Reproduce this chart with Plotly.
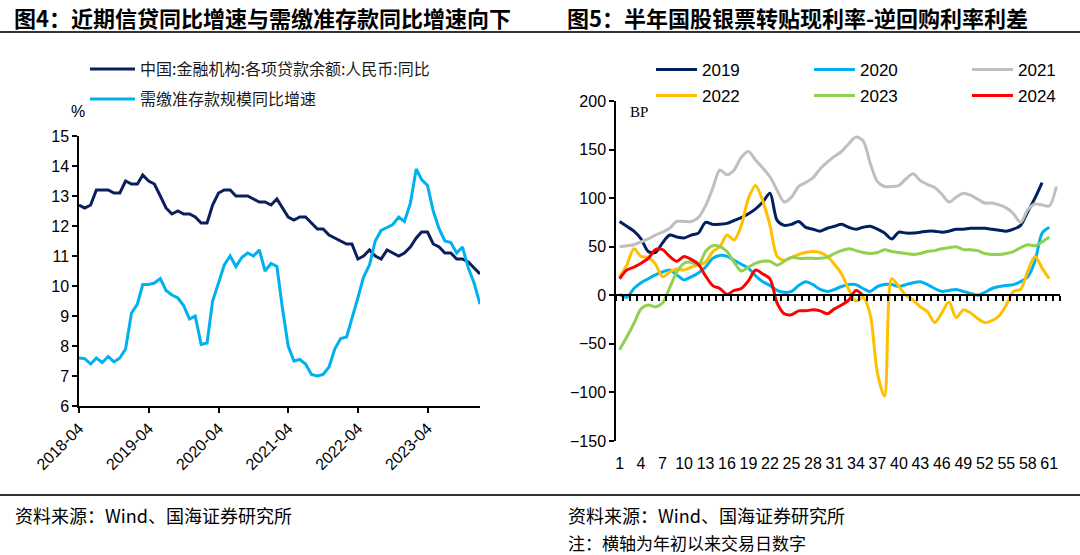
import plotly.graph_objects as go
import pandas as pd

W, H = 1080, 555

# ---------------- Left chart data (monthly, 2018-04 .. 2024-01) ----------------
loan_months = pd.date_range("2018-04-01", periods=70, freq="MS")
loan_yoy = [12.7, 12.6, 12.7, 13.2, 13.2, 13.2, 13.1, 13.1, 13.5,
            13.4, 13.4, 13.7, 13.5, 13.4, 13.0, 12.6, 12.4, 12.5, 12.4, 12.4, 12.3,
            12.1, 12.1, 12.7, 13.1, 13.2, 13.2, 13.0, 13.0, 13.0, 12.9, 12.8, 12.8,
            12.7, 12.9, 12.6, 12.3, 12.2, 12.3, 12.3, 12.1, 11.9, 11.9, 11.7, 11.6,
            11.5, 11.4, 11.4, 10.9, 11.0, 11.2, 11.0, 10.9, 11.2, 11.1, 11.0, 11.1,
            11.3, 11.6, 11.8, 11.8, 11.4, 11.3, 11.1, 11.1, 10.9, 10.9, 10.8, 10.6,
            10.4]
reserve_yoy = [7.6, 7.58, 7.4, 7.6, 7.45, 7.65, 7.47, 7.6, 7.9, 9.1,
               9.4, 10.05, 10.05, 10.1, 10.25, 9.85, 9.7, 9.6, 9.35, 8.9,
               9.0, 8.05, 8.1, 9.5, 10.1, 10.7, 11.0, 10.65, 10.95, 11.1,
               11.0, 11.2, 10.5, 10.75, 10.65, 9.3, 8.0, 7.5, 7.55, 7.4,
               7.05, 7.0, 7.05, 7.3, 7.9, 8.25, 8.3, 8.9, 9.6, 10.3,
               10.7, 11.5, 11.85, 11.95, 12.05, 12.3, 12.15, 12.75, 13.9, 13.55,
               13.35, 12.5, 11.9, 11.5, 11.45, 11.1, 11.3, 10.6, 10.1, 9.4]
left_names = ["中国:金融机构:各项贷款余额:人民币:同比", "需缴准存款规模同比增速"]

# ---------------- Right chart data (trading day index) ----------------
s2019 = [76, 71, 66, 58, 45, 44, 54, 62, 60, 59,
         62, 64, 75, 73, 73, 74, 77, 80, 84, 89,
         96, 105, 77, 72, 73, 76, 70, 68, 66, 69,
         71, 73, 70, 68, 70, 71, 68, 64, 58, 65,
         64, 64, 65, 66, 66, 65, 66, 68, 68, 69,
         69, 69, 68, 67, 66, 68, 72, 86, 100, 116]
s2020 = [1, -2, 7, 13, 17, 21, 24, 26, 21, 16,
         19, 23, 29, 38, 41, 40, 36, 32, 28, 20,
         14, 10, 5, 3, 4, 10, 14, 11, 6, 4,
         6, 9, 11, 11, 7, 4, 9, 11, 11, 9,
         11, 13, 14, 11, 7, 4, 5, 6, 4, 2,
         0, 3, 7, 9, 10, 11, 14, 19, 35, 64,
         70]
s2021 = [50, 51, 52, 55, 58, 62, 65, 69, 76, 76,
         76, 80, 92, 110, 129, 124, 129, 142, 148, 139,
         131, 122, 108, 96, 101, 112, 116, 121, 130, 137,
         143, 148, 156, 163, 159, 136, 117, 112, 112, 113,
         120, 125, 118, 114, 111, 104, 96, 101, 105, 103,
         99, 95, 95, 93, 90, 84, 75, 88, 94, 93,
         92, 112]
s2022 = [19, 31, 48, 40, 39, 32, 19, 24, 27, 26,
         29, 31, 34, 45, 50, 62, 57, 72, 100, 113,
         97, 72, 40, 36, 39, 42, 44, 45, 44, 40,
         32, 22, 6, -6, -2, -20, -80, -104, 17, 9,
         0, -5, -12, -17, -28, -18, -7, -23, -15, -18,
         -24, -28, -26, -21, -10, 4, 6, 25, 40, 28,
         17]
s2023 = [-56, -43, -29, -14, -10, -12, -8, 8, 24, 33,
         34, 31, 45, 51, 50, 45, 34, 25, 29, 33,
         35, 35, 31, 35, 39, 38, 38, 38, 38, 39,
         43, 46, 48, 46, 44, 43, 44, 47, 45, 44,
         43, 42, 43, 45, 46, 48, 49, 50, 47, 47,
         46, 43, 42, 42, 43, 45, 49, 52, 51, 55,
         60]
s2024 = [17, 26, 29, 33, 38, 47, 47, 40, 35, 40,
         37, 32, 20, 10, 7, 1, 5, 7, 15, 26,
         22, 17, -8, -19, -20, -16, -16, -15, -16, -19,
         -14, -10, -5, 5, 0]
right_series = {"2019": s2019, "2020": s2020, "2021": s2021,
                "2022": s2022, "2023": s2023, "2024": s2024}
right_colors = {"2019": "#002060", "2020": "#00B0F0", "2021": "#BFBFBF",
                "2022": "#FFC000", "2023": "#92D050", "2024": "#FF0000"}
day_ticks = list(range(1, 62, 3))
n_days = 62

# ---------------- layout geometry (pixels) ----------------
def fx(px):
    return px / W

def fy(py):
    return 1 - py / H

L_X0, L_X1, L_YT, L_YB = 79, 480, 136, 406
R_X0, R_X1, R_YT, R_YB = 616, 1060, 101, 441
Y2_MIN, Y2_MAX = -150, 200
zero_pos = fy(R_YB) + (0 - Y2_MIN) / (Y2_MAX - Y2_MIN) * (fy(R_YT) - fy(R_YB))

SANS = "Liberation Sans, Arial, sans-serif"
CJK = "Noto Sans CJK SC, sans-serif"

fig = go.Figure()

fig.add_trace(go.Scatter(x=loan_months, y=loan_yoy, mode="lines", name=left_names[0],
                         line=dict(color="#0B1F5E", width=3), xaxis="x", yaxis="y",
                         legend="legend"))
fig.add_trace(go.Scatter(x=loan_months, y=reserve_yoy, mode="lines", name=left_names[1],
                         line=dict(color="#00B0F0", width=3), xaxis="x", yaxis="y",
                         legend="legend2"))

leg_names = ["legend3", "legend4", "legend5", "legend6", "legend7", "legend8"]
for k, (yr, vals) in enumerate(right_series.items()):
    fig.add_trace(go.Scatter(x=list(range(1, len(vals) + 1)), y=vals, mode="lines", name=yr,
                             line=dict(color=right_colors[yr], width=3, shape="spline", smoothing=0.8),
                             xaxis="x2", yaxis="y2", legend=leg_names[k]))

# invisible helper trace so that the bottom label axis (x3) is drawn
fig.add_trace(go.Scatter(x=[day_ticks[0]], y=[0], mode="markers", marker=dict(opacity=0),
                         xaxis="x3", yaxis="y2", showlegend=False, hoverinfo="skip"))

axis_common = dict(showgrid=False, zeroline=False, showline=True, linecolor="#000000",
                   linewidth=1.5, ticks="outside", tickcolor="#000000", tickwidth=1.5,
                   automargin=False,
                   tickfont=dict(family=SANS, size=16, color="#000000"))

layout = dict(
    width=W, height=H, margin=dict(l=0, r=0, t=0, b=0, autoexpand=False),
    paper_bgcolor="white", plot_bgcolor="white",
    xaxis=dict(domain=[fx(L_X0), fx(L_X1)], anchor="y", type="date",
               range=["2018-04-01", "2024-01-01"], tick0="2018-04-01", dtick="M12",
               tickformat="%Y-%m", tickangle=-45, ticklen=5, **axis_common),
    yaxis=dict(domain=[fy(L_YB), fy(L_YT)], anchor="x", range=[6, 15], dtick=1,
               ticklen=5, **axis_common),
    xaxis2=dict(domain=[fx(R_X0), fx(R_X1)], anchor="free", position=zero_pos,
                range=[0.5, n_days + 0.5], tickmode="array",
                tickvals=[i + 0.5 for i in range(0, n_days + 1)],
                showticklabels=False, ticklen=5, **axis_common),
    xaxis3=dict(domain=[fx(R_X0), fx(R_X1)], anchor="y2", overlaying="x2",
                range=[0.5, n_days + 0.5], tickmode="array", tickvals=day_ticks,
                ticktext=[str(v) for v in day_ticks], showline=False, showgrid=False,
                zeroline=False, ticks="outside", ticklen=8, tickcolor="rgba(0,0,0,0)",
                automargin=False,
                tickfont=dict(family=SANS, size=16, color="#000000")),
    yaxis2=dict(domain=[fy(R_YB), fy(R_YT)], anchor="x2", range=[Y2_MIN, Y2_MAX], dtick=50,
                ticklen=5, **axis_common),
    showlegend=True,
)

def leg(x_px, y_px, iw=45, font=None):
    return dict(x=fx(x_px), y=fy(y_px), xanchor="left", yanchor="middle",
                orientation="v", bgcolor="rgba(0,0,0,0)", borderwidth=0,
                itemwidth=iw, font=font or dict(family=SANS, size=17, color="#000000"),
                itemclick=False, itemdoubleclick=False)

cjk_leg_font = dict(family=CJK, size=16, color="#1a1a1a")
layout["legend"] = leg(85, 69, 45, cjk_leg_font)
layout["legend2"] = leg(85, 99, 45, cjk_leg_font)
right_leg_pos = [(651, 70), (809, 70), (967, 70), (651, 96), (809, 96), (967, 96)]
for name, (px, py) in zip(leg_names, right_leg_pos):
    layout[name] = leg(px, py, 41)

fig.update_layout(**layout)

annotations = [
    dict(x=fx(12), y=fy(17), text="<b>图4：近期信贷同比增速与需缴准存款同比增速向下</b>",
         font=dict(family=CJK, size=22, color="#000000")),
    dict(x=fx(565), y=fy(17), text="<b>图5：半年国股银票转贴现利率-逆回购利率利差</b>",
         font=dict(family=CJK, size=22, color="#000000")),
    dict(x=fx(69), y=fy(112), text="%", font=dict(family=SANS, size=16, color="#000000")),
    dict(x=fx(628), y=fy(112), text="BP", font=dict(family="Liberation Serif, serif", size=15, color="#000000")),
    dict(x=fx(13), y=fy(515), text="资料来源：Wind、国海证券研究所",
         font=dict(family=CJK, size=18, color="#000000")),
    dict(x=fx(566), y=fy(515), text="资料来源：Wind、国海证券研究所",
         font=dict(family=CJK, size=18, color="#000000")),
    dict(x=fx(566), y=fy(542), text="注：横轴为年初以来交易日数字",
         font=dict(family=CJK, size=17, color="#000000")),
]
for a in annotations:
    a.update(xref="paper", yref="paper", xanchor="left", yanchor="middle", showarrow=False)
fig.update_layout(annotations=annotations)

fig.update_layout(shapes=[
    dict(type="line", xref="paper", yref="paper", x0=0, x1=1, y0=fy(32), y1=fy(32),
         line=dict(color="#333333", width=2)),
    dict(type="line", xref="paper", yref="paper", x0=0, x1=1, y0=fy(495), y1=fy(495),
         line=dict(color="#333333", width=2)),
])

fig.write_html("out.html", config={"displayModeBar": False},
               post_script="document.body.style.margin='0';document.body.style.overflow='hidden';")
